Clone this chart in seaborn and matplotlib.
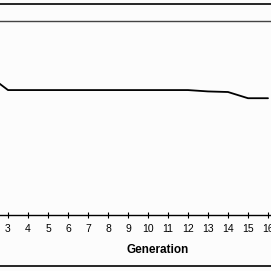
import matplotlib
matplotlib.use("Agg")
import matplotlib.pyplot as plt
import seaborn as sns
import pandas as pd
from matplotlib.lines import Line2D

generations = [2, 3, 4, 5, 6, 7, 8, 9, 10, 11, 12, 13, 14, 15, 16]
values = [0.722, 0.644, 0.644, 0.644, 0.644, 0.644, 0.644, 0.644, 0.644,
          0.644, 0.644, 0.637, 0.634, 0.602, 0.602]
tick_positions = [3, 4, 5, 6, 7, 8, 9, 10, 11, 12, 13, 14, 15, 16]
tick_labels = [str(g) for g in tick_positions]
x_label = "Generation"

df = pd.DataFrame({"Generation": generations, "Value": values})

sns.set_theme(style="white")
plt.rcParams["font.family"] = ["Liberation Sans", "DejaVu Sans"]

fig = plt.figure(figsize=(2.71, 2.71), dpi=100)
fig.patch.set_facecolor("#fcfcfc")
ax = fig.add_axes([0, 0.2066, 1, 0.7159])
ax.set_facecolor("#fcfcfc")

sns.lineplot(data=df, x="Generation", y="Value", ax=ax, color="black",
             linewidth=1.3)

ax.set_xticks(tick_positions)
ax.set_xticklabels(tick_labels, fontsize=7.5)
ax.set_yticks([])
ax.set_ylabel("")
ax.set_xlim(2.6, 16.15)
ax.set_ylim(0, 1)
ax.tick_params(axis="x", direction="inout", length=5, width=0.8, pad=4,
               colors="black", bottom=True)
for side in ["left", "right"]:
    ax.spines[side].set_visible(False)
ax.spines["bottom"].set_color("black")
ax.spines["bottom"].set_linewidth(1.0)
ax.spines["top"].set_color("#444444")
ax.spines["top"].set_linewidth(1.0)

ax.set_xlabel(x_label, fontsize=8.5, fontweight="bold", color="black")
ax.xaxis.set_label_coords(0.581, -0.15)

fig.add_artist(Line2D([0, 1], [0.9834, 0.9834], transform=fig.transFigure,
                      color="black", linewidth=1.2))
fig.add_artist(Line2D([0, 1], [0.0185, 0.0185], transform=fig.transFigure,
                      color="black", linewidth=1.2))

fig.savefig("out.png", dpi=100, facecolor=fig.get_facecolor())
